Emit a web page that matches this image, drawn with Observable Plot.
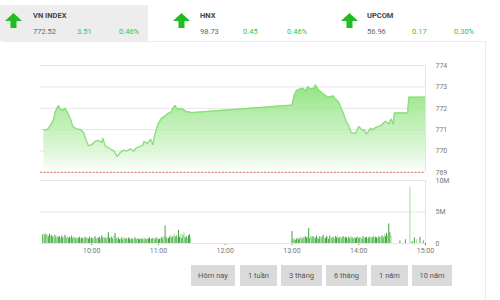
<!DOCTYPE html>
<html><head><meta charset="utf-8">
<script src="https://cdn.jsdelivr.net/npm/d3@7"></script>
<script src="https://cdn.jsdelivr.net/npm/@observablehq/plot@0.6"></script>
<style>
body{margin:0;width:500px;height:300px;overflow:hidden;background:#fff;font-family:Roboto,"Open Sans",sans-serif;position:relative}
.abs{position:absolute}
.hdrbox{left:0;top:5px;width:148px;height:36px;background:#ededed}
.panel{left:3px;top:41px;width:482px;height:270px;border-top:1px solid #ececec;border-right:1px solid #ececec}
.name{font-size:7.5px;font-weight:bold;color:#444}
.val{font-size:7.5px;color:#666}
.chg{font-size:7.5px;color:#33c633}
.btn{top:265px;height:21px;background:#dadada;color:#555;font-size:7.5px;display:flex;align-items:center;justify-content:center}
svg.chart{position:absolute;left:0}
</style></head>
<body>
<script>
// ---- data ----
const indexNames = ["VN INDEX", "HNX", "UPCOM"];
const indexValues = ["772.52", "98.73", "56.96"];
const indexChanges = ["3.51", "0.45", "0.17"];
const indexPercents = ["0.46%", "0.46%", "0.30%"];
const referencePrice = 769.01;
const priceTimes = ["9:17","9:20","9:23","9:26","9:27","9:30","9:32","9:34","9:36","9:38","9:41","9:43","9:46","9:50","9:53","9:54","9:57","10:00","10:03","10:06","10:09","10:10","10:12","10:17","10:20","10:23","10:26","10:29","10:31","10:35","10:38","10:40","10:43","10:46","10:47","10:50","10:53","10:55","10:56","10:58","11:00","11:03","11:05","11:08","11:11","11:13","11:15","11:17","11:20","11:22","11:25","11:30",
  "13:00","13:02","13:04","13:07","13:10","13:12","13:14","13:17","13:20","13:21","13:24","13:28","13:30","13:33","13:37","13:39","13:42","13:46","13:49","13:51","13:53","13:57","14:00","14:02","14:04","14:05","14:07","14:09","14:11","14:13","14:15","14:18","14:20","14:22","14:24","14:27","14:29","14:31","14:32","14:44","14:45","15:00"];
const priceValues = [771.0,771.0,771.2,771.5,771.8,772.13,771.95,771.9,772.0,771.85,771.5,771.15,771.05,771.0,770.85,770.65,770.25,770.3,770.45,770.5,770.4,770.6,770.25,770.1,770.0,769.75,769.95,770.05,770.0,770.1,770.0,770.15,770.2,770.3,770.45,770.35,770.55,770.3,770.6,771.0,771.3,771.55,771.6,771.75,771.8,772.0,772.13,771.95,772.0,771.95,771.85,771.8,
  772.15,772.6,772.83,772.9,772.94,772.8,773.0,772.9,772.95,773.1,772.85,772.68,772.6,772.52,772.58,772.45,772.28,771.8,771.35,771.2,770.88,770.82,771.15,771.05,770.96,771.0,770.8,770.95,771.07,771.0,771.1,771.15,771.2,771.3,771.4,771.27,771.5,771.27,771.78,771.78,772.52,772.52];
// volume in millions, one bar per minute
const volMorningStart = "9:16";
const volMorning = [1.4,1.2,1.5,1.3,1.4,1.1,1.5,1.2,1.3,1.0,
  1.1,1.3,0.9,1.2,1.0,1.1,0.8,1.2,0.9,1.0,
  1.3,0.9,1.1,0.8,1.0,0.9,1.2,0.8,1.0,0.9,
  0.7,0.9,0.8,1.0,0.7,0.9,0.8,0.7,1.0,0.8,
  0.9,0.7,1.0,0.8,0.9,0.7,0.8,1.1,0.7,0.9,
  0.8,1.0,0.7,1.2,0.9,0.8,0.9,0.7,1.0,1.7,
  0.8,0.9,1.0,0.7,1.2,1.6,0.8,0.7,0.9,0.6,
  0.7,0.9,0.6,1.0,0.7,0.8,0.6,0.9,0.7,0.6,
  0.8,0.6,0.7,0.9,0.6,0.8,0.7,0.6,0.8,0.7,
  0.6,0.9,0.7,0.6,0.8,0.7,0.9,0.6,0.7,0.8,
  0.6,0.7,0.9,0.8,0.6,0.7,0.8,1.0,0.7,1.1,
  2.8,0.9,0.7,0.8,1.0,1.3,0.9,1.1,1.4,1.0,
  1.2,0.9,2.1,1.0,1.5,0.8,1.3,1.7,0.9,1.1,
  0.8,1.2,1.4,0.9];
const volAfternoonStart = "13:00";
const volAfternoon = [1.9,0.6,0.8,0.5,0.7,0.9,0.6,0.8,1.0,0.7,
  0.9,0.8,1.1,0.9,1.0,2.4,0.8,1.2,0.9,1.1,
  1.0,0.8,1.2,0.9,0.7,1.1,0.8,1.0,1.3,0.9,
  0.8,1.1,1.0,0.7,1.2,0.9,0.8,1.0,0.7,1.1,
  0.9,1.2,0.8,1.0,0.7,0.9,1.1,0.8,1.0,0.9,
  0.7,1.0,0.8,1.1,0.9,0.7,1.0,0.8,0.9,1.1,
  0.8,0.9,1.0,0.7,1.1,0.8,0.9,1.0,0.7,0.9,
  1.0,0.8,0.9,1.1,0.8,1.0,0.9,0.8,1.1,0.9,
  1.0,1.2,0.9,1.4,1.1,1.6,1.3,3.1,1.7,1.2];
const volLateTimes = ["14:37","14:42","14:46","14:48","14:50","14:52","14:55","14:58"];
const volLate = [0.4,0.6,9.0,0.3,0.9,0.6,1.0,0.4];
const priceTicks = [769,770,771,772,773,774];
const volTicks = [0,5,10];
const timeTicks = ["10:00","11:00","12:00","13:00","14:00","15:00"];
const buttons = ["Hôm nay","1 tuần","3 tháng","6 tháng","1 năm","10 năm"];

// ---- helpers ----
const parse = s => { const [h, m] = s.split(":").map(Number); return new Date(2019, 0, 2, h, m); };
const addMin = (d, k) => new Date(d.getTime() + k * 60000);
const xDomain = [parse("9:14"), parse("15:00")];
const price = priceTimes.map((t, i) => ({t: parse(t), v: priceValues[i]}));
const vol = [];
volMorning.forEach((v, i) => vol.push({t: addMin(parse(volMorningStart), i), v}));
volAfternoon.forEach((v, i) => vol.push({t: addMin(parse(volAfternoonStart), i), v}));
volLateTimes.forEach((t, i) => vol.push({t: parse(t), v: volLate[i]}));

// ---- header ----
const body = document.body;
function el(cls, style, text) {
  const d = document.createElement("div");
  d.className = "abs " + cls;
  Object.assign(d.style, style);
  if (text != null) d.textContent = text;
  body.appendChild(d);
  return d;
}
el("panel", {});
el("hdrbox", {});
const cols = [[5, 33, 77, 119], [173, 200, 243, 287], [341, 367, 412, 454]];
indexNames.forEach((n, i) => {
  const [ax, tx, cx, px] = cols[i];
  const a = el("", {left: ax + "px", top: "13px", width: "17px", height: "15px"});
  a.innerHTML = '<svg width="17" height="15" viewBox="0 0 17 15"><polygon points="8.5,0 17,8 11.5,8 11.5,15 5.5,15 5.5,8 0,8" fill="#22bb22"/></svg>';
  el("name", {left: tx + "px", top: "11px"}, n);
  el("val", {left: tx + "px", top: "27px"}, indexValues[i]);
  el("chg", {left: cx + "px", top: "27px"}, indexChanges[i]);
  el("chg", {left: px + "px", top: "27px"}, indexPercents[i]);
});

// ---- price chart ----
const p1 = Plot.plot({
  width: 500, height: 125, marginLeft: 40, marginRight: 75, marginTop: 10, marginBottom: 8,
  style: {fontSize: "7px", fontFamily: "Roboto, sans-serif", color: "#777", background: "transparent"},
  x: {type: "time", domain: xDomain, axis: null},
  y: {domain: [769, 774], ticks: priceTicks, tickFormat: d => String(d), axis: "right", tickSize: 0, tickPadding: 10, label: null},
  marks: [
    Plot.ruleY(priceTicks, {stroke: "#e6e6e6"}),
    Plot.areaY(price, {x: "t", y1: 769, y2: "v", fill: "url(#pg)"}),
    Plot.lineY(price, {x: "t", y: "v", stroke: "#88df76", strokeWidth: 1.3}),
    Plot.ruleY([referencePrice], {stroke: "#f06a6a", strokeWidth: 1, strokeDasharray: "2,1.5"}),
    Plot.ruleX([xDomain[1]], {stroke: "#e3e3e3"})
  ]
});
p1.classList.add("chart");
p1.style.top = "55px";
const defs = document.createElementNS("http://www.w3.org/2000/svg", "defs");
defs.innerHTML = '<linearGradient id="pg" x1="0" y1="0" x2="0" y2="1"><stop offset="0" stop-color="#8be27a" stop-opacity="0.95"/><stop offset="0.55" stop-color="#b4ecA8" stop-opacity="0.7"/><stop offset="1" stop-color="#ffffff" stop-opacity="0.9"/></linearGradient>';
p1.insertBefore(defs, p1.firstChild);
body.appendChild(p1);

// ---- volume chart ----
const fmtT = d3.timeFormat("%H:%M");
const p2 = Plot.plot({
  width: 500, height: 93, marginLeft: 40, marginRight: 75, marginTop: 10, marginBottom: 20,
  style: {fontSize: "7px", fontFamily: "Roboto, sans-serif", color: "#777", background: "transparent"},
  x: {type: "time", domain: xDomain, ticks: timeTicks.map(parse), tickFormat: fmtT, tickSize: 2, tickPadding: 3, label: null},
  y: {domain: [0, 10], ticks: volTicks, tickFormat: d => d === 0 ? "0" : d + "M", axis: "right", tickSize: 0, tickPadding: 10, label: null},
  marks: [
    Plot.ruleY(volTicks, {stroke: "#e6e6e6"}),
    Plot.ruleX(vol, {x: "t", y1: 0, y2: "v", stroke: (d, i) => i % 3 === 1 ? "#9fdc96" : "#3fa53f", strokeWidth: 1}),
    Plot.ruleX([xDomain[1]], {stroke: "#e3e3e3"})
  ]
});
p2.classList.add("chart");
p2.style.top = "170px";
body.appendChild(p2);

// ---- buttons ----
const btnPos = [[191, 44], [240, 37], [281, 41], [326, 41], [371, 37], [412, 40]];
buttons.forEach((b, i) => el("btn", {left: btnPos[i][0] + "px", width: btnPos[i][1] + "px"}, b));
</script>
</body></html>
